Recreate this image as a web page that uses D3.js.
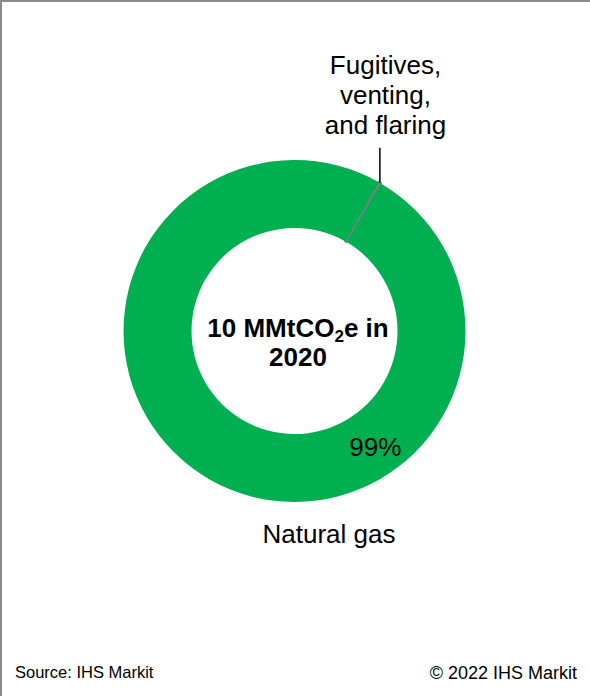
<!DOCTYPE html>
<html>
<head>
<meta charset="utf-8">
<script src="https://cdn.jsdelivr.net/npm/d3@7"></script>
<style>
  html, body { margin: 0; padding: 0; background: #fff; }
  svg { display: block; font-family: "Liberation Sans", Arial, sans-serif; }
</style>
</head>
<body>
<svg id="chart" width="590" height="696"></svg>
<script>
// Emission sources, 2020 (share of total, %)
const categories = ["Fugitives, venting, and flaring", "Natural gas"];
const shares = [0.2, 99.8];
const colors = ["#7f7f7f", "#00b050"];
const totalLabel = { value: "10", unit: "MMtCO", sub: "2", tail: "e in", year: "2020" };
const sourceText = "Source: IHS Markit";
const copyrightText = "\u00a9 2022 IHS Markit";

const W = 590, H = 696;
const cx = 294.5, cy = 331;
const outerR = 171, innerR = 103;
const startDeg = 29.6;

const svg = d3.select("#chart");

// frame lines (top and left)
svg.append("path")
  .attr("d", `M1,${H} V1 H${W}`)
  .attr("fill", "none")
  .attr("stroke", "#8c8c8c")
  .attr("stroke-width", 2);

const data = categories.map((c, i) => ({ category: c, value: shares[i], color: colors[i] }));

const pie = d3.pie()
  .sort(null)
  .value(d => d.value)
  .startAngle(startDeg * Math.PI / 180)
  .endAngle(startDeg * Math.PI / 180 + 2 * Math.PI);

const arc = d3.arc().innerRadius(innerR).outerRadius(outerR);
const arcs = pie(data);

const g = svg.append("g").attr("transform", `translate(${cx},${cy})`);

g.selectAll("path.slice")
  .data(arcs)
  .join("path")
  .attr("class", "slice")
  .attr("d", arc)
  .attr("fill", d => d.data.color)
  .attr("stroke", d => d.data.value < 1 ? d.data.color : "none")
  .attr("stroke-width", 2);

// leader line from the small slice up to its label
const small = arcs[0];
const midA = (small.startAngle + small.endAngle) / 2;
const ox = Math.sin(midA) * outerR, oy = -Math.cos(midA) * outerR;
g.append("line")
  .attr("x1", ox).attr("y1", oy)
  .attr("x2", ox).attr("y2", oy - 35)
  .attr("stroke", "#000")
  .attr("stroke-width", 1.5);

// label of the small slice
const fugLines = ["Fugitives,", "venting,", "and flaring"];
svg.append("text")
  .attr("x", 385.5)
  .attr("y", 74)
  .attr("text-anchor", "middle")
  .attr("font-size", 26)
  .attr("fill", "#000")
  .selectAll("tspan")
  .data(fugLines)
  .join("tspan")
  .attr("x", 385.5)
  .attr("dy", (d, i) => i === 0 ? 0 : 30)
  .text(d => d);

// percent label on the main ring
const big = arcs[1];
const pctA = 145 * Math.PI / 180, pctR = 141;
g.append("text")
  .attr("x", Math.sin(pctA) * pctR)
  .attr("y", -Math.cos(pctA) * pctR + 9)
  .attr("text-anchor", "middle")
  .attr("font-size", 26)
  .attr("fill", "#000")
  .text(Math.floor(big.data.value) + "%");

// category label below the ring
svg.append("text")
  .attr("x", 329)
  .attr("y", 543)
  .attr("text-anchor", "middle")
  .attr("font-size", 26)
  .attr("fill", "#000")
  .text(big.data.category);

// total in the middle
const center = svg.append("text")
  .attr("x", 298)
  .attr("y", 337)
  .attr("text-anchor", "middle")
  .attr("font-size", 26)
  .attr("font-weight", "bold")
  .attr("fill", "#000");
center.append("tspan").text(totalLabel.value + " " + totalLabel.unit);
center.append("tspan").attr("font-size", 17).attr("dy", 5).text(totalLabel.sub);
center.append("tspan").attr("dy", -5).text(totalLabel.tail);

svg.append("text")
  .attr("x", 298)
  .attr("y", 366)
  .attr("text-anchor", "middle")
  .attr("font-size", 26)
  .attr("font-weight", "bold")
  .attr("fill", "#000")
  .text(totalLabel.year);

// footer
svg.append("text")
  .attr("x", 15)
  .attr("y", 678)
  .attr("font-size", 16.5)
  .attr("fill", "#000")
  .text(sourceText);

svg.append("text")
  .attr("x", 577)
  .attr("y", 679)
  .attr("text-anchor", "end")
  .attr("font-size", 18)
  .attr("fill", "#000")
  .text(copyrightText);
</script>
</body>
</html>
